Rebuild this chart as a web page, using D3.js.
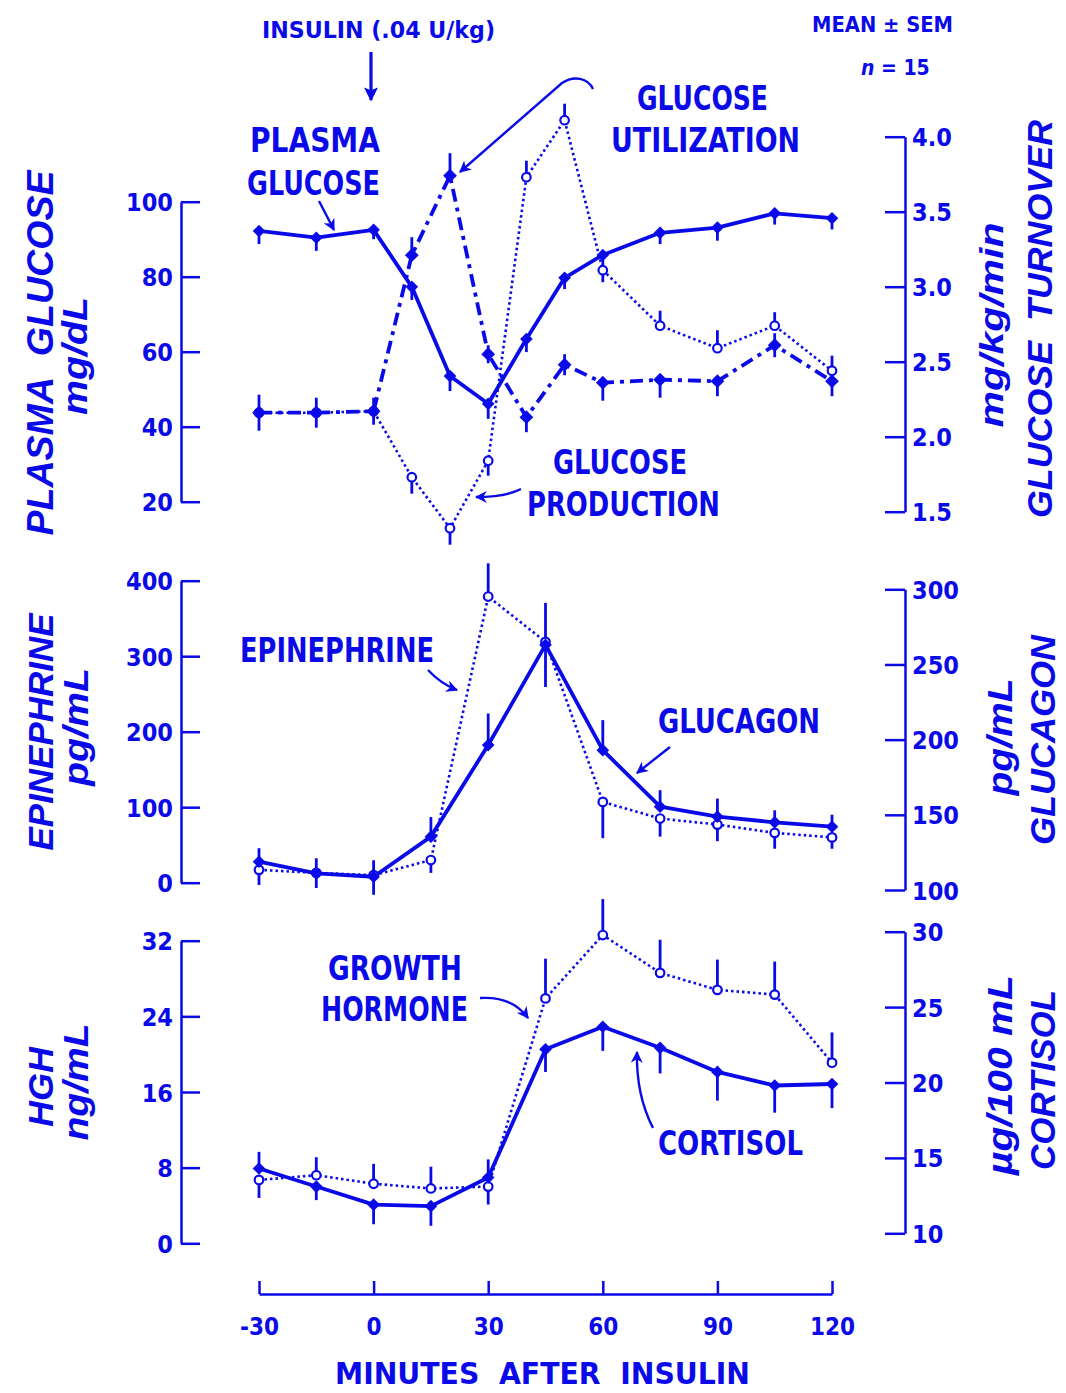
<!DOCTYPE html>
<html>
<head>
<meta charset="utf-8">
<script src="https://cdn.jsdelivr.net/npm/d3@7"></script>
<style>
  html, body { margin: 0; padding: 0; background: #fff; }
  svg { display: block; }
</style>
</head>
<body>
<svg id="chart" width="1066" height="1393"></svg>
<script>
// ---------------- DATA ----------------
const timesGlucose = [-30, -15, 0, 10, 20, 30, 40, 50, 60, 75, 90, 105, 120];
const timesHormone = [-30, -15, 0, 15, 30, 45, 60, 75, 90, 105, 120];

// Panel 1 (left axis mg/dL, right axis mg/kg/min)
const plasmaGlucose    = [92.2, 90.4, 92.5, 77.3, 53.5, 46.1, 63.4, 79.7, 85.8, 91.7, 93.1, 96.9, 95.6];
const plasmaGlucoseSem = [3.5, 3.5, 2.5, 3.5, 4, 4, 3.5, 3, 3.5, 3, 3.5, 3, 3];
const plasmaGlucoseDir = ["d","d","d","d","d","d","d","d","d","d","d","d","d"];

const glucoseUtilization    = [2.16, 2.16, 2.17, 3.21, 3.74, 2.55, 2.13, 2.48, 2.36, 2.38, 2.37, 2.61, 2.37];
const glucoseUtilizationSem = [0.12, 0.10, 0.09, 0.12, 0.15, 0.06, 0.10, 0.07, 0.12, 0.12, 0.10, 0.08, 0.10];
const glucoseUtilizationDir = ["b","b","b","u","u","b","d","b","d","d","d","b","d"];

const glucoseProduction    = [2.16, 2.16, 2.17, 1.73, 1.39, 1.84, 3.73, 4.11, 3.11, 2.74, 2.59, 2.74, 2.44];
const glucoseProductionSem = [0, 0, 0, 0.11, 0.11, 0.10, 0.11, 0.11, 0.08, 0.10, 0.12, 0.09, 0.10];
const glucoseProductionDir = ["u","u","u","d","d","d","u","u","d","u","u","u","u"];

// Panel 2 (left axis epinephrine pg/mL, right axis glucagon pg/mL)
const epinephrine    = [17, 13, 10, 30, 379, 319, 107, 85, 77, 66, 60];
const epinephrineSem = [20, 20, 26, 17, 44, 0, 48, 24, 22, 21, 15];
const epinephrineDir = ["d","d","d","d","u","d","d","d","d","d","d"];

const glucagon    = [118.8, 111.1, 108.8, 135.5, 196.4, 263, 193, 155.4, 148.8, 145, 142.1];
const glucagonSem = [9, 10, 11, 13, 21, 28, 20, 11, 12, 8, 8];
const glucagonDir = ["u","u","u","u","u","b","u","u","u","u","u"];

// Panel 3 (left axis HGH ng/mL, right axis cortisol µg/100 mL)
const growthHormone    = [6.7, 7.2, 6.3, 5.8, 6.0, 25.9, 32.6, 28.6, 26.8, 26.3, 19.1];
const growthHormoneSem = [1.9, 1.9, 2.1, 2.3, 1.9, 4.2, 3.8, 3.5, 3.2, 3.5, 3.2];
const growthHormoneDir = ["d","u","u","u","d","u","u","u","u","u","u"];

const cortisol    = [14.3, 13.1, 11.9, 11.8, 13.7, 22.2, 23.7, 22.3, 20.7, 19.8, 19.9];
const cortisolSem = [1.1, 0.9, 1.3, 1.3, 1.2, 1.5, 1.6, 1.7, 1.9, 1.8, 1.6];
const cortisolDir = ["u","d","d","d","u","d","d","d","d","d","d"];

// Tick labels
const xTicks = [-30, 0, 30, 60, 90, 120];
const leftTicks1 = [20, 40, 60, 80, 100];
const rightTicks1 = [1.5, 2.0, 2.5, 3.0, 3.5, 4.0];
const leftTicks2 = [0, 100, 200, 300, 400];
const rightTicks2 = [100, 150, 200, 250, 300];
const leftTicks3 = [0, 8, 16, 24, 32];
const rightTicks3 = [10, 15, 20, 25, 30];

// ---------------- DRAWING ----------------
const BLUE = "#0a0ae8";
const COND = "'Liberation Sans Narrow','DejaVu Sans Condensed','Liberation Sans',sans-serif";
const ITAL = "'Liberation Sans','DejaVu Sans',sans-serif";
const svg = d3.select("#chart");

const defs = svg.append("defs");
defs.append("marker").attr("id", "ah").attr("viewBox", "0 0 10 10")
  .attr("refX", 9).attr("refY", 5).attr("markerWidth", 12).attr("markerHeight", 12)
  .attr("markerUnits", "userSpaceOnUse").attr("orient", "auto")
  .append("path").attr("d", "M0,0 L10,5 L0,10 L3,5 Z").attr("fill", BLUE);
defs.append("marker").attr("id", "ahBig").attr("viewBox", "0 0 10 10")
  .attr("refX", 9).attr("refY", 5).attr("markerWidth", 16).attr("markerHeight", 14)
  .attr("markerUnits", "userSpaceOnUse").attr("orient", "auto")
  .append("path").attr("d", "M0,0 L10,5 L0,10 L2,5 Z").attr("fill", BLUE);

const x = d3.scaleLinear().domain([-30, 120]).range([259, 832]);
const LEFT_X = 181, RIGHT_X = 905;

const panels = [
  {
    yL: d3.scaleLinear().domain([20, 100]).range([501.7, 201.7]), lt: leftTicks1, lf: d3.format("d"),
    yR: d3.scaleLinear().domain([1.5, 4.0]).range([511.7, 136.7]), rt: rightTicks1, rf: d3.format(".1f"),
    series: [
      { t: timesGlucose, v: glucoseProduction, sem: glucoseProductionSem, dir: glucoseProductionDir, side: "R", style: "dot" },
      { t: timesGlucose, v: glucoseUtilization, sem: glucoseUtilizationSem, dir: glucoseUtilizationDir, side: "R", style: "dashdot" },
      { t: timesGlucose, v: plasmaGlucose, sem: plasmaGlucoseSem, dir: plasmaGlucoseDir, side: "L", style: "solid" }
    ]
  },
  {
    yL: d3.scaleLinear().domain([0, 400]).range([882.7, 580.7]), lt: leftTicks2, lf: d3.format("d"),
    yR: d3.scaleLinear().domain([100, 300]).range([890, 589.3]), rt: rightTicks2, rf: d3.format("d"),
    series: [
      { t: timesHormone, v: epinephrine, sem: epinephrineSem, dir: epinephrineDir, side: "L", style: "dot" },
      { t: timesHormone, v: glucagon, sem: glucagonSem, dir: glucagonDir, side: "R", style: "solid" }
    ]
  },
  {
    yL: d3.scaleLinear().domain([0, 32]).range([1243.3, 940.7]), lt: leftTicks3, lf: d3.format("d"),
    yR: d3.scaleLinear().domain([10, 30]).range([1233.3, 931.7]), rt: rightTicks3, rf: d3.format("d"),
    series: [
      { t: timesHormone, v: growthHormone, sem: growthHormoneSem, dir: growthHormoneDir, side: "L", style: "dot" },
      { t: timesHormone, v: cortisol, sem: cortisolSem, dir: cortisolDir, side: "R", style: "solid" }
    ]
  }
];

function styleAxis(g) {
  g.selectAll("path.domain").attr("stroke", BLUE).attr("stroke-width", 2.5);
  g.selectAll(".tick line").attr("stroke", BLUE).attr("stroke-width", 2.5);
  g.selectAll(".tick text").attr("fill", BLUE)
    .style("font-family", COND).style("font-weight", "bold").style("font-size", "25px");
}

panels.forEach(p => {
  const gl = svg.append("g").attr("transform", `translate(${LEFT_X},0)`)
    .call(d3.axisRight(p.yL).tickValues(p.lt).tickFormat(p.lf).tickSize(19).tickSizeOuter(0));
  gl.selectAll(".tick text").attr("x", -8).attr("text-anchor", "end").attr("dy", "0.36em");
  styleAxis(gl);
  const gr = svg.append("g").attr("transform", `translate(${RIGHT_X},0)`)
    .call(d3.axisLeft(p.yR).tickValues(p.rt).tickFormat(p.rf).tickSize(20).tickSizeOuter(0));
  gr.selectAll(".tick text").attr("x", 7).attr("text-anchor", "start").attr("dy", "0.36em");
  styleAxis(gr);

  p.series.forEach(s => {
    const y = s.side === "L" ? p.yL : p.yR;
    const pts = s.t.map((t, i) => ({ t, v: s.v[i], sem: s.sem[i], dir: s.dir[i] }));
    const line = d3.line().x(d => x(d.t)).y(d => y(d.v));
    const path = svg.append("path").datum(pts).attr("d", line)
      .attr("fill", "none").attr("stroke", BLUE).attr("stroke-linejoin", "round");
    if (s.style === "solid") path.attr("stroke-width", 3.8);
    if (s.style === "dashdot") path.attr("stroke-width", 3.8).attr("stroke-dasharray", "13,6,4,6");
    if (s.style === "dot") path.attr("stroke-width", 2.6).attr("stroke-dasharray", "2.5,3");
    s._pts = pts; s._y = y;
  });
  p.series.forEach(s => {
    const y = s._y;
    svg.append("g").selectAll("line").data(s._pts.filter(d => d.sem > 0)).join("line")
      .attr("x1", d => x(d.t)).attr("x2", d => x(d.t))
      .attr("y1", d => y(d.dir === "d" ? d.v : d.v + d.sem))
      .attr("y2", d => y(d.dir === "u" ? d.v : d.v - d.sem))
      .attr("stroke", BLUE).attr("stroke-width", 2.8);
  });
  p.series.forEach(s => {
    const y = s._y;
    const g = svg.append("g");
    if (s.style === "dot") {
      g.selectAll("circle").data(s._pts).join("circle")
        .attr("cx", d => x(d.t)).attr("cy", d => y(d.v)).attr("r", 4.3)
        .attr("fill", "#fff").attr("stroke", BLUE).attr("stroke-width", 2.2);
    } else {
      const sym = d3.symbol().type(d3.symbolSquare).size(s.style === "dashdot" ? 95 : 80);
      g.selectAll("path").data(s._pts).join("path")
        .attr("d", sym)
        .attr("transform", d => `translate(${x(d.t)},${y(d.v)}) rotate(45)`)
        .attr("fill", BLUE);
    }
  });
});

// X axis
const gx = svg.append("g").attr("transform", "translate(0,1294)")
  .call(d3.axisTop(x).tickValues(xTicks).tickFormat(d => String(d)).tickSize(13).tickSizeOuter(0));
gx.selectAll(".tick text").attr("y", 24).attr("dy", "0.71em").attr("text-anchor", "middle");
styleAxis(gx);
gx.selectAll(".tick text").style("font-size", "24px");

// ---------------- TEXT ----------------
function txt(s, xx, yy, size, len, opts = {}) {
  const t = svg.append("text").attr("x", xx).attr("y", yy)
    .attr("fill", BLUE).attr("text-anchor", opts.anchor || "start")
    .style("font-family", opts.family || COND)
    .style("font-weight", opts.weight || "bold")
    .style("font-style", opts.italic ? "italic" : "normal")
    .style("font-size", size + "px")
    .style("white-space", "pre")
    .text(s);
  if (len) t.attr("textLength", len).attr("lengthAdjust", "spacingAndGlyphs");
  return t;
}
function vtxt(s, cx, cy, size, len, opts = {}) {
  const t = svg.append("text").attr("transform", `translate(${cx},${cy}) rotate(-90)`)
    .attr("fill", BLUE).attr("text-anchor", "middle")
    .style("font-family", opts.family || ITAL)
    .style("font-weight", opts.weight || "bold")
    .style("font-style", "italic")
    .style("font-size", size + "px")
    .style("white-space", "pre")
    .text(s);
  if (len) t.attr("textLength", len).attr("lengthAdjust", "spacingAndGlyphs");
  return t;
}

// top annotations
txt("INSULIN (.04 U/kg)", 262, 38, 23, 233);
txt("MEAN \u00B1 SEM", 812, 32, 21, 141);
const nText = svg.append("text").attr("x", 861).attr("y", 75).attr("fill", BLUE)
  .style("font-family", COND).style("font-weight", "bold").style("font-size", "21px");
nText.append("tspan").style("font-style", "italic").text("n");
nText.append("tspan").text(" = 15");

txt("PLASMA", 250, 152, 34, 130);
txt("GLUCOSE", 247, 195, 34, 133);
txt("GLUCOSE", 637, 110, 34, 131);
txt("UTILIZATION", 611, 152, 34, 189);
txt("GLUCOSE", 553, 474, 34, 134);
txt("PRODUCTION", 527, 516, 34, 193);
txt("EPINEPHRINE", 240, 662, 34, 194);
txt("GLUCAGON", 658, 733, 34, 162);
txt("GROWTH", 328, 980, 34, 134);
txt("HORMONE", 321, 1021, 34, 147);
txt("CORTISOL", 658, 1155, 34, 145);
txt("MINUTES\u00A0\u00A0AFTER\u00A0\u00A0INSULIN", 335, 1384, 30, 415);

// rotated axis titles (left)
vtxt("PLASMA\u00A0\u00A0GLUCOSE", 53, 353, 37, 365);
vtxt("mg/dL", 87, 356, 35, 118);
vtxt("EPINEPHRINE", 53, 732, 35, 237);
vtxt("pg/mL", 88, 727, 35, 118);
vtxt("HGH", 53, 1087, 35, 80);
vtxt("ng/mL", 88, 1082, 35, 117);
// rotated axis titles (right)
vtxt("mg/kg/min", 1003, 325, 33, 205);
vtxt("GLUCOSE\u00A0\u00A0TURNOVER", 1052, 319, 35, 398);
vtxt("pg/mL", 1012, 737, 35, 117);
vtxt("GLUCAGON", 1055, 740, 35, 210);
vtxt("\u00B5g/100\u00A0mL", 1012, 1075, 35, 200);
vtxt("CORTISOL", 1055, 1080, 35, 180);

// arrows
function arrow(d, big) {
  svg.append("path").attr("d", d).attr("fill", "none").attr("stroke", BLUE)
    .attr("stroke-width", big ? 3.2 : 2.4).attr("marker-end", big ? "url(#ahBig)" : "url(#ah)");
}
arrow("M371,52 L371,100", true);
arrow("M319,201 L334,230");
arrow("M593,89 C588,78 574,75 562,83 L460,172");
arrow("M521,489 Q505,497 476,497");
arrow("M428,670 Q441,684 457,690");
arrow("M670,747 L637,773");
arrow("M480,998 Q512,996 528,1018");
arrow("M653,1128 Q636,1095 637,1052");
</script>
</body>
</html>
